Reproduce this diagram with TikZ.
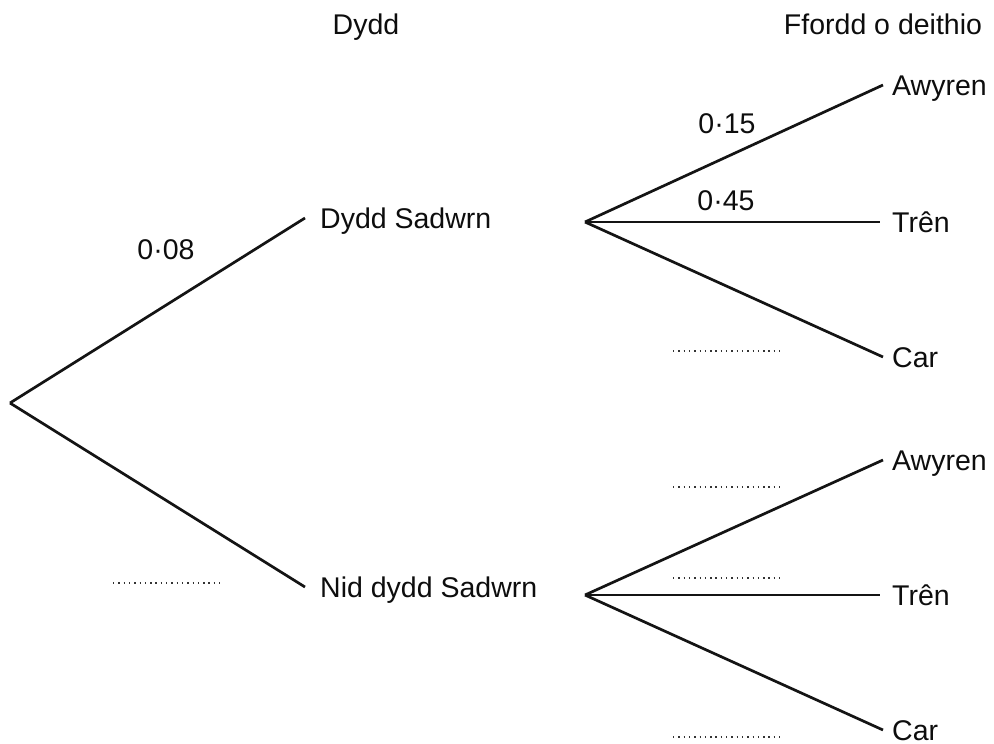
\documentclass[tikz,border=0pt]{standalone}
\usepackage{fontspec}
\setmainfont{Liberation Sans}
\begin{document}
\begin{tikzpicture}[x=1pt, y=-1pt,
  txt/.style={font=\fontsize{28.5}{34}\selectfont, text=black!95,
              text height=20.4pt, text depth=0pt, inner sep=0pt},
  outcome/.style={txt, anchor=west},
  branch/.style={line width=2.7pt, black!92},
  blank/.style={line width=1.5pt, black!80, dash pattern=on 1.4pt off 3.9pt}]
\useasboundingbox (0,0) rectangle (994,744);

% column headings
\node[txt] (hday)  at (366,24) {Dydd};
\node[txt] (htrip) at (883,24) {Ffordd o deithio};

% first stage: day
\coordinate (root) at (10,403);
\node[outcome, inner xsep=15pt] (sat)    at (305,218) {Dydd Sadwrn};
\node[outcome, inner xsep=15pt] (notsat) at (305,587) {Nid dydd Sadwrn};
\draw[branch] (root) -- (sat.west);
\draw[branch] (root) -- (notsat.west);

% second stage: mode of travel after Saturday
\coordinate (satR) at (585,222);
\node[outcome, inner xsep=9pt]  (air1)   at (883,85)  {Awyren};
\node[outcome, inner xsep=12pt] (train1) at (880,222) {Trên};
\node[outcome, inner xsep=9pt]  (car1)   at (883,357) {Car};
\draw[branch] (satR) -- (air1.west);
\draw[branch] (satR) -- (train1.west);
\draw[branch] (satR) -- (car1.west);

% second stage: mode of travel after another day
\coordinate (notR) at (585,595);
\node[outcome, inner xsep=9pt]  (air2)   at (883,460) {Awyren};
\node[outcome, inner xsep=12pt] (train2) at (880,595) {Trên};
\node[outcome, inner xsep=9pt]  (car2)   at (883,730) {Car};
\draw[branch] (notR) -- (air2.west);
\draw[branch] (notR) -- (train2.west);
\draw[branch] (notR) -- (car2.west);

% probabilities
\node[txt] (p08) at (166,249) {0·08};
\node[txt] (p15) at (727,123) {0·15};
\node[txt] (p45) at (726,200) {0·45};

% answer blanks
\draw[blank] (113,583) -- (220,583);
\draw[blank] (673,351) -- (780,351);
\draw[blank] (673,487) -- (780,487);
\draw[blank] (673,578) -- (780,578);
\draw[blank] (673,737) -- (780,737);
\end{tikzpicture}
\end{document}
